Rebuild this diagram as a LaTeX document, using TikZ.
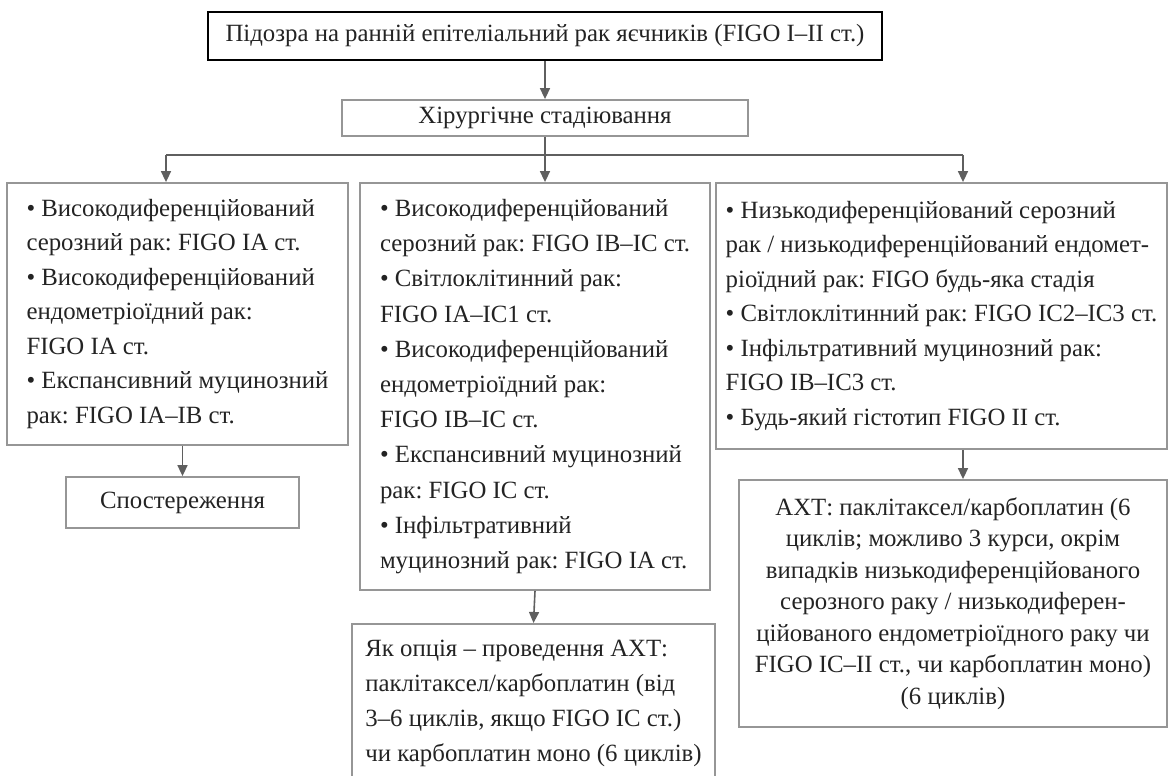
\documentclass[tikz,border=0pt]{standalone}
\usepackage{fontspec}
\setmainfont{Liberation Serif}
\frenchspacing
\usetikzlibrary{arrows.meta,positioning,calc}
\definecolor{frameG}{RGB}{150,150,150}
\definecolor{linkG}{RGB}{95,95,95}
\definecolor{inkG}{RGB}{35,35,35}

\begin{document}
\begin{tikzpicture}[x=1pt, y=-1pt, >={Triangle[length=11pt,width=10pt]},
  stagebox/.style={draw=frameG, line width=1.8pt, inner sep=0pt, text=inkG,
    font=\fontsize{24.8}{34.5}\selectfont, align=center},
  listbox/.style={stagebox, align=left},
  link/.style={draw=linkG, line width=1.6pt}]
  \useasboundingbox (0,0) rectangle (1171,776);
  % top of the chart
  \node[stagebox, draw=black, line width=2.6pt, minimum width=674pt, minimum height=48pt]
    (suspect) at (545,36) {Підозра на ранній епітеліальний рак яєчників (FIGO I–II ст.)};
  \node[stagebox, minimum width=406pt, minimum height=36pt]
    (staging) at (545,118) {Хірургічне стадіювання};
  % three risk groups
  \node[listbox, minimum width=341pt, minimum height=262pt] (lowrisk) at (177.5,314)
    {• Високодиференційований\\ серозний рак: FIGO IA ст.\\ • Високодиференційований\\
     ендометріоїдний рак:\\ FIGO IA ст.\\ • Експансивний муцинозний\\ рак: FIGO IA–IB ст.};
  \node[listbox, font=\fontsize{24.8}{35.2}\selectfont, minimum width=350pt,
    minimum height=407pt] (midrisk) at (535,386.5)
    {• Високодиференційований\\ серозний рак: FIGO IB–IC ст.\\ • Світлоклітинний рак:\\
     FIGO IA–IC1 ст.\\ • Високодиференційований\\ ендометріоїдний рак:\\ FIGO IB–IC ст.\\
     • Експансивний муцинозний\\ рак: FIGO IC ст.\\ • Інфільтративний\\
     муцинозний рак: FIGO IA ст.};
  \node[listbox, minimum width=451pt, minimum height=266pt] (highrisk) at (941.5,316)
    {• Низькодиференційований серозний\\ рак / низькодиференційований ендомет-\\
     ріоїдний рак: FIGO будь-яка стадія\\ • Світлоклітинний рак: FIGO IC2–IC3 ст.\\
     • Інфільтративний муцинозний рак:\\ FIGO IB–IC3 ст.\\ • Будь-який гістотип FIGO II ст.};
  % what follows
  \node[stagebox, minimum width=233pt, minimum height=51pt] (observe) at (182.5,502.5)
    {Спостереження};
  \node[listbox, font=\fontsize{24.8}{35}\selectfont, anchor=north, minimum width=363pt,
    minimum height=160pt] (option) at (533.5,623)
    {Як опція – проведення АХТ:\\ паклітаксел/карбоплатин (від\\
     3–6 циклів, якщо FIGO IC ст.)\\ чи карбоплатин моно (6 циклів)};
  \node[stagebox, font=\fontsize{24.8}{31.5}\selectfont, minimum width=428pt, minimum height=247pt]
    (chemo) at (953,603.5)
    {АХТ: паклітаксел/карбоплатин (6\\ циклів; можливо 3 курси, окрім\\
     випадків низькодиференційованого\\ серозного раку / низькодиферен-\\
     ційованого ендометріоїдного раку чи\\ FIGO IC–II ст., чи карбоплатин моно)\\
     (6 циклів)};
  % connectors
  \coordinate (busL) at (166,155);
  \coordinate (busM) at (545,155);
  \coordinate (busR) at (963,155);
  \draw[link, ->] (suspect) -- (staging);
  \draw[link] (staging.south) -- (busM);
  \draw[link] (busL) -- (busR);
  \draw[link, ->] (busL) -- (busL |- lowrisk.north);
  \draw[link, ->] (busM) -- (busM |- midrisk.north);
  \draw[link, ->] (busR) -- (busR |- highrisk.north);
  \draw[link, ->] (observe.north |- lowrisk.south) -- (observe.north);
  \draw[link, ->] (midrisk.south) -- (option.north);
  \draw[link, ->] (busR |- highrisk.south) -- (busR |- chemo.north);
\end{tikzpicture}
\end{document}
